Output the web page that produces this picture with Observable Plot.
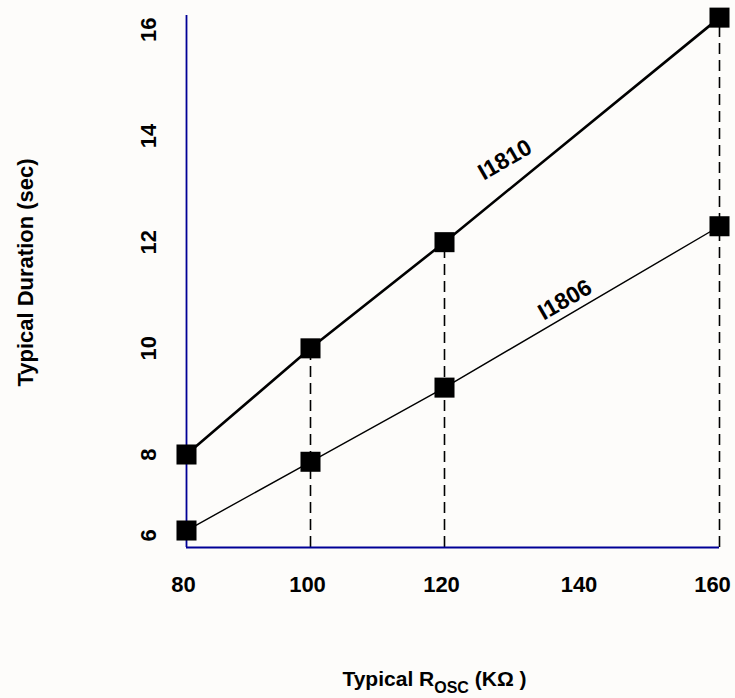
<!DOCTYPE html>
<html>
<head>
<meta charset="utf-8">
<script src="https://cdn.jsdelivr.net/npm/d3@7"></script>
<script src="https://cdn.jsdelivr.net/npm/@observablehq/plot@0.6"></script>
<style>
  html, body { margin: 0; padding: 0; background: #fdfcfa; }
  svg { display: block; }
</style>
</head>
<body>
<div id="chart"></div>
<script>
// ---- data ----
const rosc = [80, 100, 120, 160];            // Typical R_OSC (KΩ)
const i1810 = [8.0, 10.0, 12.0, 16.23];      // Typical duration (sec), I1810
const i1806 = [6.12, 7.82, 9.26, 12.3];      // Typical duration (sec), I1806
const seriesNames = ["I1810", "I1806"];
const xTicks = [80, 100, 120, 140, 160];
const yTicks = [6, 8, 10, 12, 14, 16];
const dashedAt = [100, 120, 160];            // dashed drop lines from I1810 points
const xTitleParts = ["Typical R", "OSC", " (KΩ )"];
const yTitle = "Typical Duration (sec)";
const xAxisExtent = [80, 160];
const yAxisExtent = [5.7, 16.27];

// ---- tables built from the arrays ----
const seriesValues = {I1810: i1810, I1806: i1806};
const rows = seriesNames.flatMap(s => rosc.map((x, i) => ({series: s, x, y: seriesValues[s][i]})));
const dashedRows = dashedAt.map(x => ({x, y: i1810[rosc.indexOf(x)]}));
const n = rosc.length;
const labelRows = seriesNames.map(s => ({
  series: s,
  x: (rosc[n - 2] + rosc[n - 1]) / 2,
  y: (seriesValues[s][n - 2] + seriesValues[s][n - 1]) / 2
}));

const font = '"Liberation Sans", Arial, Helvetica, sans-serif';
const navy = "#000096";
const tickStyle = {tickSize: 0, fontSize: 22, fontWeight: "bold", label: null, tickFormat: d => String(d)};

const plot = Plot.plot({
  width: 735,
  height: 698,
  marginLeft: 186,
  marginRight: 15,
  marginTop: 15,
  marginBottom: 151,
  style: {background: "#fdfcfa", fontFamily: font, color: "#000", overflow: "visible"},
  x: {type: "linear", domain: [80, 100, 120, 160], range: [186, 310, 444, 719]},
  y: {type: "linear", domain: [5.7, 8, 16.27], range: [547, 454, 15]},
  marks: [
    Plot.ruleX(dashedRows, {x: "x", y1: yAxisExtent[0], y2: "y", stroke: "#000", strokeWidth: 1.6, strokeDasharray: "11,6"}),
    Plot.ruleX([xAxisExtent[0]], {y1: yAxisExtent[0], y2: yAxisExtent[1], stroke: navy, strokeWidth: 1.8}),
    Plot.ruleY([yAxisExtent[0]], {x1: xAxisExtent[0], x2: xAxisExtent[1], stroke: navy, strokeWidth: 1.8}),
    Plot.line(rows.filter(d => d.series === "I1810"), {x: "x", y: "y", stroke: "#000", strokeWidth: 2.6}),
    Plot.line(rows.filter(d => d.series === "I1806"), {x: "x", y: "y", stroke: "#000", strokeWidth: 1.4}),
    Plot.dot(rows, {x: "x", y: "y", symbol: "square", r: 11.3, fill: "#000"}),
    Plot.axisX({...tickStyle, ticks: xTicks.slice(0, -1), tickPadding: 29, dx: -3}),
    Plot.axisX({...tickStyle, ticks: xTicks.slice(-1), tickPadding: 29, dx: -7}),
    Plot.axisY({...tickStyle, ticks: yTicks, tickPadding: 31, tickRotate: -90}),
    Plot.text(labelRows.filter(d => d.series === "I1810"), {x: "x", y: "y", text: "series", rotate: -30, dx: -77, dy: 30, fontSize: 23, fontWeight: "bold"}),
    Plot.text(labelRows.filter(d => d.series === "I1806"), {x: "x", y: "y", text: "series", rotate: -30, dx: -17, dy: -7, fontSize: 23, fontWeight: "bold"}),
    Plot.text([yTitle], {text: d => d, frameAnchor: "left", textAnchor: "middle", rotate: -90, dx: -161, dy: -9, fontSize: 22, fontWeight: "bold"}),
    Plot.text([xTitleParts[0]], {text: d => d, frameAnchor: "bottom", textAnchor: "middle", lineAnchor: "bottom", dx: -19, dy: 138, fontSize: 21, fontWeight: "bold"})
  ]
});

// subscript in the x-axis title
d3.select(plot).selectAll("text")
  .filter(function() { return this.textContent === xTitleParts[0]; })
  .each(function() {
    const t = d3.select(this);
    t.text(null);
    t.append("tspan").text(xTitleParts[0]);
    t.append("tspan").attr("font-size", 16).attr("dy", 7).text(xTitleParts[1]);
    t.append("tspan").attr("dy", -7).text(xTitleParts[2]);
  });

document.getElementById("chart").appendChild(plot);
</script>
</body>
</html>
